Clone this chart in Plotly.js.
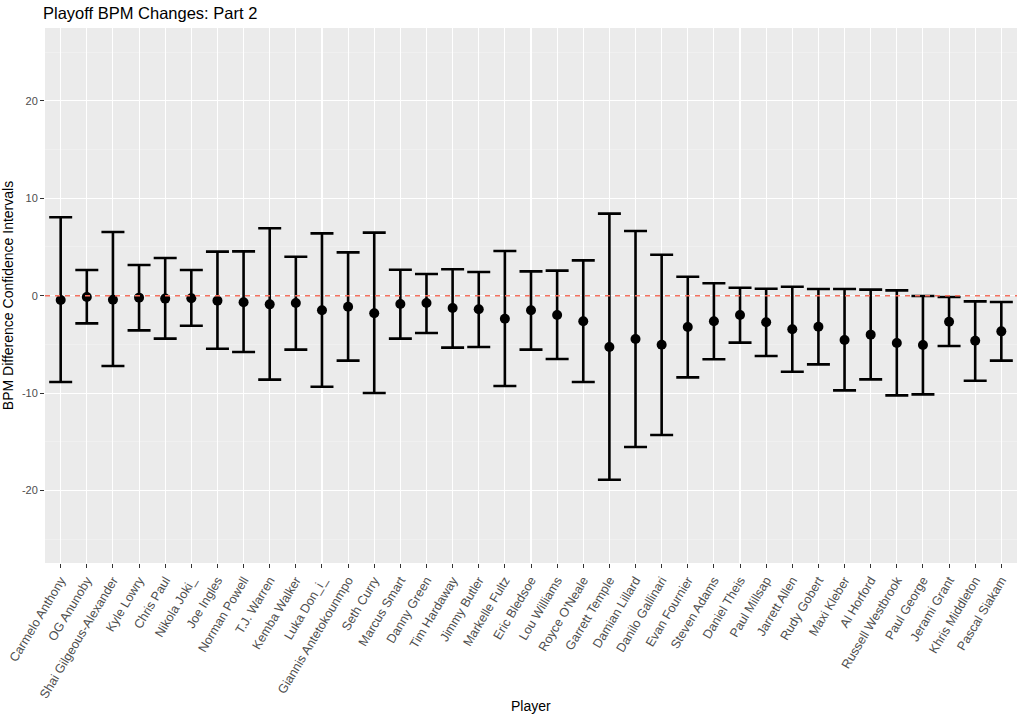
<!DOCTYPE html>
<html>
<head>
<meta charset="utf-8">
<script src="https://cdn.plot.ly/plotly-3.0.1.min.js"></script>
<style>html,body{margin:0;padding:0;background:#fff;}#chart{width:1023px;height:718px;}</style>
</head>
<body>
<div id="chart"></div>
<script>
const players = ["Carmelo Anthony","OG Anunoby","Shai Gilgeous-Alexander","Kyle Lowry","Chris Paul","Nikola Joki_","Joe Ingles","Norman Powell","T.J. Warren","Kemba Walker","Luka Don_i_","Giannis Antetokounmpo","Seth Curry","Marcus Smart","Danny Green","Tim Hardaway","Jimmy Butler","Markelle Fultz","Eric Bledsoe","Lou Williams","Royce O'Neale","Garrett Temple","Damian Lillard","Danilo Gallinari","Evan Fournier","Steven Adams","Daniel Theis","Paul Millsap","Jarrett Allen","Rudy Gobert","Maxi Kleber","Al Horford","Russell Westbrook","Paul George","Jerami Grant","Khris Middleton","Pascal Siakam"];
const estimate = [-0.44,-0.13,-0.41,-0.20,-0.30,-0.27,-0.51,-0.68,-0.89,-0.75,-1.50,-1.13,-1.81,-0.85,-0.75,-1.26,-1.40,-2.36,-1.50,-1.98,-2.63,-5.27,-4.45,-5.03,-3.21,-2.63,-1.98,-2.73,-3.45,-3.18,-4.55,-4.00,-4.86,-5.06,-2.67,-4.62,-3.66];
const upper = [8.05,2.64,6.54,3.15,3.87,2.64,4.52,4.55,6.92,4.00,6.40,4.45,6.47,2.67,2.23,2.71,2.43,4.59,2.50,2.57,3.63,8.42,6.64,4.21,1.95,1.27,0.82,0.72,0.92,0.69,0.69,0.62,0.55,-0.03,-0.13,-0.58,-0.65];
const lower = [-8.86,-2.84,-7.22,-3.56,-4.41,-3.08,-5.44,-5.78,-8.62,-5.54,-9.34,-6.67,-9.99,-4.41,-3.83,-5.33,-5.27,-9.27,-5.54,-6.50,-8.86,-18.89,-15.53,-14.30,-8.38,-6.53,-4.82,-6.19,-7.80,-7.05,-9.72,-8.59,-10.23,-10.13,-5.16,-8.73,-6.67];
const yTickVals = [-20,-10,0,10,20];
const yTickText = ["-20","-10","0","10","20"];

const plus = upper.map((u,i)=>u-estimate[i]);
const minus = lower.map((l,i)=>estimate[i]-l);

const trace = {
  type:'scatter', mode:'markers',
  x: players, y: estimate,
  marker:{color:'#000000', size:10},
  error_y:{type:'data', symmetric:false, array:plus, arrayminus:minus, color:'#000000', thickness:2.6, width:11.5},
  hoverinfo:'x+y', showlegend:false
};

const font = "Liberation Sans, Arial, Helvetica, sans-serif";
const layout = {
  width:1023, height:718,
  margin:{l:45, r:6, t:28, b:155, pad:0},
  paper_bgcolor:'#ffffff', plot_bgcolor:'#EBEBEB',
  font:{family:font, color:'#000000'},
  title:{text:'Playoff BPM Changes: Part 2', font:{family:font, size:16.5, color:'#000000'}, xref:'container', x:43/1023, xanchor:'left', yref:'container', y:1-13/718, yanchor:'middle'},
  xaxis:{
    type:'category', range:[-0.6, players.length-0.4],
    showgrid:true, gridcolor:'#FFFFFF', gridwidth:1.1,
    zeroline:false, showline:false,
    ticks:'outside', ticklen:4, tickwidth:1, tickcolor:'#333333',
    tickangle:-59, tickfont:{family:font, size:12.6, color:'#4D4D4D'},
    fixedrange:true
  },
  yaxis:{
    range:[-27.44, 27.48],
    tickvals:yTickVals, ticktext:yTickText,
    showgrid:true, gridcolor:'#FFFFFF', gridwidth:1.1,
    minor:{dtick:5, tick0:5, showgrid:true, gridcolor:'#F4F4F4', gridwidth:0.6, ticks:''},
    zeroline:false, showline:false,
    ticks:'outside', ticklen:4, tickwidth:1, tickcolor:'#333333',
    tickfont:{family:font, size:11, color:'#4D4D4D'},
    title:{text:'BPM Difference Confidence Intervals', font:{family:font, size:14, color:'#000000'}, standoff:6},
    fixedrange:true
  },
  annotations:[{text:'Player', xref:'paper', x:0.5, xanchor:'center', yref:'paper', y:-(706-563)/535, yanchor:'middle', showarrow:false, font:{family:font, size:14, color:'#000000'}}],
  shapes:[
    {type:'line', xref:'paper', x0:0, x1:1, yref:'y', y0:0, y1:0, line:{color:'#F4705F', width:1.5, dash:'5px,5px'}, layer:'above'}
  ]
};

Plotly.newPlot('chart',[trace],layout,{displayModeBar:false, staticPlot:true});
</script>
</body>
</html>
